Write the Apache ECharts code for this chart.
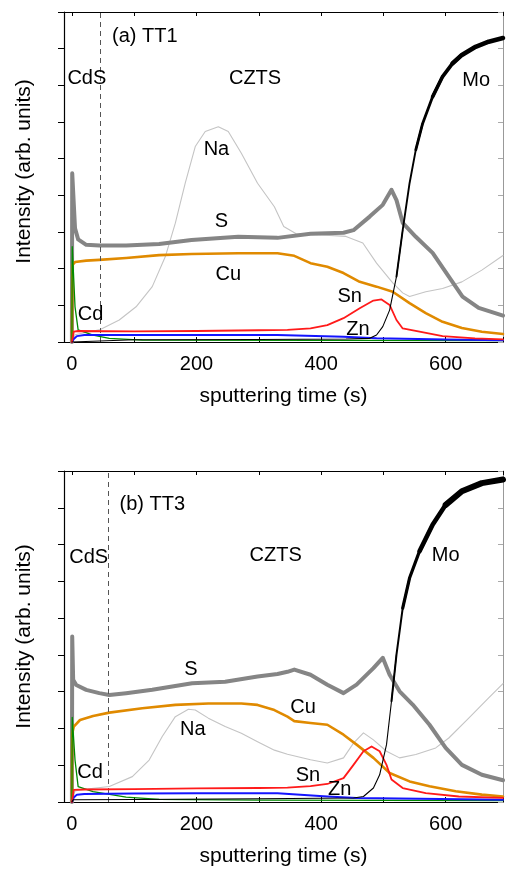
<!DOCTYPE html>
<html>
<head>
<meta charset="utf-8">
<script src="https://cdn.jsdelivr.net/npm/echarts@6/dist/echarts.min.js"></script>
<style>
  html, body { margin: 0; padding: 0; background: #fff; }
  #chart { width: 506px; height: 874px; }
</style>
</head>
<body>
<div id="chart"></div>
<script>
// depth profiles, [sputtering time s, intensity arb.]
const tt1Na = [[0, 0], [5, 2], [20, 2.5], [44, 3.3], [76, 6.0], [103, 9.6], [129, 15.1], [150, 23.3], [166, 32.4], [182, 43.4], [198, 53.3], [214, 57.4], [235, 58.7], [251, 57.4], [272, 51.5], [298, 43.3], [325, 36.9], [340, 31.5], [360, 29.5], [400, 29.2], [440, 28.8], [467, 27], [489, 21.5], [515, 16.1], [531, 13.4], [542, 12.4], [568, 13.7], [595, 14.6], [626, 16.4], [658, 19.6], [692, 23.6]];
const tt1S = [[0, 0], [0.5, 46], [5, 31], [10, 28], [23, 26.5], [44, 26.3], [87, 26.3], [140, 26.7], [192, 27.8], [267, 28.7], [330, 28.4], [383, 29.5], [436, 29.8], [452, 30.5], [478, 34.2], [499, 37.4], [513, 41.5], [521, 38.7], [531, 32.5], [552, 28.7], [579, 24.3], [605, 17.8], [627, 12.4], [653, 9.3], [692, 7.2]];
const tt1Cu = [[0, 0], [1, 21], [5, 21.8], [23, 22.2], [44, 22.4], [87, 22.9], [140, 23.7], [192, 24], [267, 24.2], [330, 24.2], [357, 23.5], [383, 21.5], [410, 20.5], [436, 18.8], [462, 16.4], [489, 15.1], [515, 13.7], [542, 10.6], [568, 7.9], [595, 5.5], [626, 3.8], [658, 2.8], [692, 2.2]];
const tt1Cd = [[0, 0], [0.5, 26], [5, 9.6], [10, 3.3], [34, 1.9], [60, 1.0], [113, 0.5], [692, 0.4]];
const tt1Zn = [[0, 0], [3, 0.8], [8, 1.6], [20, 1.9], [100, 1.9], [200, 1.9], [330, 1.9], [436, 1.45], [489, 1.0], [600, 0.7], [692, 0.5]];
const tt1Sn = [[0, 0], [3, 2.8], [10, 3.0], [100, 2.9], [200, 3.0], [300, 3.2], [346, 3.3], [383, 3.7], [410, 4.6], [436, 6.5], [462, 9.2], [484, 11.3], [497, 11.6], [510, 10.1], [521, 6.0], [531, 3.7], [558, 2.8], [595, 1.6], [647, 1.0], [692, 0.7]];
const tt1Mo = [[0, 0], [2, 0.5], [100, 0.6], [300, 0.7], [440, 0.8], [478, 1.0], [489, 1.9], [499, 4.2], [510, 8.7], [521, 17.8], [531, 30.5], [542, 43.3], [552, 52.4], [563, 59.6], [579, 66.9], [595, 72.4], [611, 76.0], [626, 78.3], [648, 80.5], [669, 81.9], [692, 82.9]];

const tt3Na = [[0, 0], [5, 3], [13, 3.3], [60, 4.2], [97, 6.9], [124, 11.4], [145, 17.8], [166, 23.2], [187, 25.2], [198, 25.0], [219, 22.8], [246, 20.5], [272, 18.7], [298, 16.4], [325, 14.1], [346, 13.0], [383, 11.5], [410, 10.6], [436, 12.0], [452, 16.0], [468, 18.8], [484, 16.9], [505, 13.8], [526, 12.0], [552, 12.9], [584, 14.7], [605, 17.4], [637, 22.8], [669, 28.3], [692, 32.2]];
const tt3S = [[0, 0], [0.5, 45], [2, 33.2], [7, 31.8], [23, 30.5], [44, 29.6], [60, 29.1], [87, 29.6], [129, 30.5], [193, 32.3], [246, 32.7], [298, 34.1], [330, 34.8], [346, 35.4], [357, 36.0], [383, 34.6], [410, 31.9], [436, 29.6], [457, 31.9], [484, 36.4], [499, 39.2], [510, 34.6], [526, 30.1], [547, 26.5], [574, 21.0], [600, 14.7], [626, 10.1], [658, 7.4], [692, 5.9]];
const tt3Cu = [[0, 0], [0.5, 18.7], [3, 20.5], [13, 22.3], [34, 23.4], [60, 24.3], [113, 25.5], [166, 26.4], [219, 26.8], [272, 26.8], [298, 26.4], [325, 25.0], [346, 23.2], [357, 22.0], [383, 21.5], [410, 21.0], [436, 18.3], [457, 15.6], [484, 12.0], [510, 7.9], [542, 5.6], [574, 4.3], [616, 2.9], [658, 2.0], [692, 1.5]];
const tt3Cd = [[0, 0], [0.5, 23], [5, 11.4], [10, 4.2], [34, 2.8], [87, 1.3], [140, 0.7], [300, 0.5], [692, 0.4]];
const tt3Zn = [[0, 0], [3, 1.2], [8, 2.0], [20, 2.2], [100, 2.3], [200, 2.4], [330, 2.4], [410, 1.5], [457, 1.1], [692, 0.6]];
const tt3Sn = [[0, 0], [3, 3.3], [20, 3.4], [100, 3.5], [200, 3.7], [300, 3.8], [346, 3.9], [383, 4.3], [410, 4.9], [436, 6.5], [452, 10.1], [468, 13.8], [481, 15.1], [494, 13.8], [505, 10.1], [513, 6.1], [531, 3.8], [568, 2.4], [621, 1.5], [692, 1.1]];
const tt3Mo = [[0, 0], [2, 0.6], [100, 0.7], [300, 0.9], [452, 1.1], [468, 1.5], [484, 3.8], [494, 7.4], [505, 15.6], [513, 27.4], [521, 40.1], [531, 52.7], [542, 60.9], [558, 68.2], [579, 75.4], [600, 80.8], [626, 84.5], [658, 86.7], [692, 87.7]];

// CdS / CZTS interface (dashed line), s
const interfaceTimes = [46, 59];

// annotation text anchored in data space [t, intensity, text]
const tt1Labels = [[117, 83.2, "(a) TT1"], [24, 72.0, "CdS"], [294, 72.0, "CZTS"], [649, 71.4, "Mo"], [232, 52.4, "Na"], [240, 33.0, "S"], [251, 18.5, "Cu"], [30, 7.6, "Cd"], [446, 12.5, "Sn"], [459, 3.3, "Zn"]];
const tt3Labels = [[129, 81.0, "(b) TT3"], [27, 66.6, "CdS"], [327, 66.9, "CZTS"], [600, 66.9, "Mo"], [191, 35.9, "S"], [194, 19.6, "Na"], [29, 7.9, "Cd"], [371, 25.6, "Cu"], [379, 7.3, "Sn"], [430, 3.3, "Zn"]];

const font = "'Liberation Sans', Arial, Helvetica, sans-serif";

// Mo gets noisier as it rises: draw it as overlapping pieces of growing width
const panels = [
  { top: 12, height: 330, data: { Na: tt1Na, S: tt1S, Cu: tt1Cu, Cd: tt1Cd, Zn: tt1Zn, Sn: tt1Sn, Mo: tt1Mo },
    labels: tt1Labels, iface: interfaceTimes[0], namePad: [0, 0, 0, 11],
    moPieces: [[0, 531, 1.1], [521, 563, 1.9], [552, 595, 2.8], [579, 626, 3.7], [611, 1000, 4.6]] },
  { top: 471, height: 331, data: { Na: tt3Na, S: tt3S, Cu: tt3Cu, Cd: tt3Cd, Zn: tt3Zn, Sn: tt3Sn, Mo: tt3Mo },
    labels: tt3Labels, iface: interfaceTimes[1], namePad: 0,
    moPieces: [[0, 521, 1.1], [513, 542, 2.0], [531, 579, 3.2], [558, 626, 4.6], [600, 1000, 6]] },
];

const styles = {
  Na: { color: "#c4c4c4", width: 1.1 },
  S: { color: "#858585", width: 4 },
  Cu: { color: "#e08a00", width: 2.6 },
  Cd: { color: "#008a00", width: 1.3 },
  Zn: { color: "#1414ff", width: 2 },
  Sn: { color: "#ff1a1a", width: 1.8 },
};

function between(data, t0, t1) {
  return data.filter((p) => p[0] >= t0 && p[0] <= t1);
}

function lineSeries(idx, data, color, width, z) {
  return {
    type: "line", xAxisIndex: idx * 2, yAxisIndex: idx * 2, data,
    showSymbol: false, symbol: "none", silent: true, z,
    lineStyle: { color, width, join: "round", cap: "round" }, clip: true,
  };
}

const grid = [];
const xAxis = [];
const yAxis = [];
const series = [];

panels.forEach((p, i) => {
  grid.push({ left: 64, right: -2, top: p.top, height: p.height });
  const xBase = {
    gridIndex: i, type: "value", min: -12.7, max: 692, splitNumber: 7,
    splitLine: { show: false },
    axisLine: { onZero: false, lineStyle: { color: "#000", width: 1.2 } },
  };
  xAxis.push({
    ...xBase, position: "bottom",
    axisTick: { inside: true, length: 5, lineStyle: { color: "#000", width: 1 } },
    axisLabel: {
      margin: 12, fontSize: 20, color: "#000", fontFamily: font,
      formatter: (v) => (v >= 0 && Math.abs(v % 200) < 1e-6 ? String(v) : ""),
    },
    name: "sputtering time (s)", nameLocation: "middle", nameGap: 44,
    nameTextStyle: { fontSize: 21, color: "#000", fontFamily: font },
  });
  xAxis.push({
    ...xBase, position: "top",
    axisTick: { inside: true, length: 4, lineStyle: { color: "#000", width: 1 } },
    axisLabel: { show: false },
  });
  const yBase = {
    gridIndex: i, type: "value", min: 0, max: 90, interval: 10,
    splitLine: { show: false }, axisLabel: { show: false },
  };
  yAxis.push({
    ...yBase, position: "left",
    axisLine: { onZero: false, lineStyle: { color: "#000", width: 1.2 } },
    axisTick: { inside: false, length: 6, lineStyle: { color: "#000", width: 1 } },
    name: "Intensity (arb. units)", nameLocation: "middle", nameGap: 29,
    nameTextStyle: { fontSize: 21, color: "#000", fontFamily: font, padding: p.namePad },
  });
  yAxis.push({
    ...yBase, position: "right",
    axisLine: { onZero: false, lineStyle: { color: "#999", width: 1 } },
    axisTick: { inside: true, length: 5, lineStyle: { color: "#aaa", width: 1 } },
  });

  const d = p.data;
  series.push(lineSeries(i, d.Na, styles.Na.color, styles.Na.width, 2));
  series.push(lineSeries(i, d.S, styles.S.color, styles.S.width, 3));
  series.push(lineSeries(i, d.Cu, styles.Cu.color, styles.Cu.width, 4));
  series.push(lineSeries(i, d.Cd, styles.Cd.color, styles.Cd.width, 5));
  series.push(lineSeries(i, d.Zn, styles.Zn.color, styles.Zn.width, 6));
  series.push(lineSeries(i, d.Sn, styles.Sn.color, styles.Sn.width, 7));
  p.moPieces.forEach(([t0, t1, w]) => {
    series.push(lineSeries(i, between(d.Mo, t0, t1), "#000", w, 8));
  });

  series.push({
    type: "scatter", xAxisIndex: i * 2, yAxisIndex: i * 2, silent: true, z: 10,
    symbolSize: 0, itemStyle: { color: "transparent", opacity: 1 },
    data: p.labels.map((l) => ({ value: [l[0], l[1]], name: l[2] })),
    label: {
      show: true, position: "inside", formatter: "{b}", opacity: 1,
      fontSize: 20, color: "#000", fontFamily: font,
      textBorderWidth: 0, textBorderColor: "transparent",
    },
    markLine: {
      silent: true, symbol: ["none", "none"], animation: false,
      label: { show: false },
      lineStyle: { color: "#555", type: [5, 4], width: 1 },
      data: [{ xAxis: p.iface }],
    },
  });
});

const chart = echarts.init(document.getElementById("chart"), null, { renderer: "canvas" });
chart.setOption({
  animation: false,
  backgroundColor: "#fff",
  grid, xAxis, yAxis, series,
});
</script>
</body>
</html>
